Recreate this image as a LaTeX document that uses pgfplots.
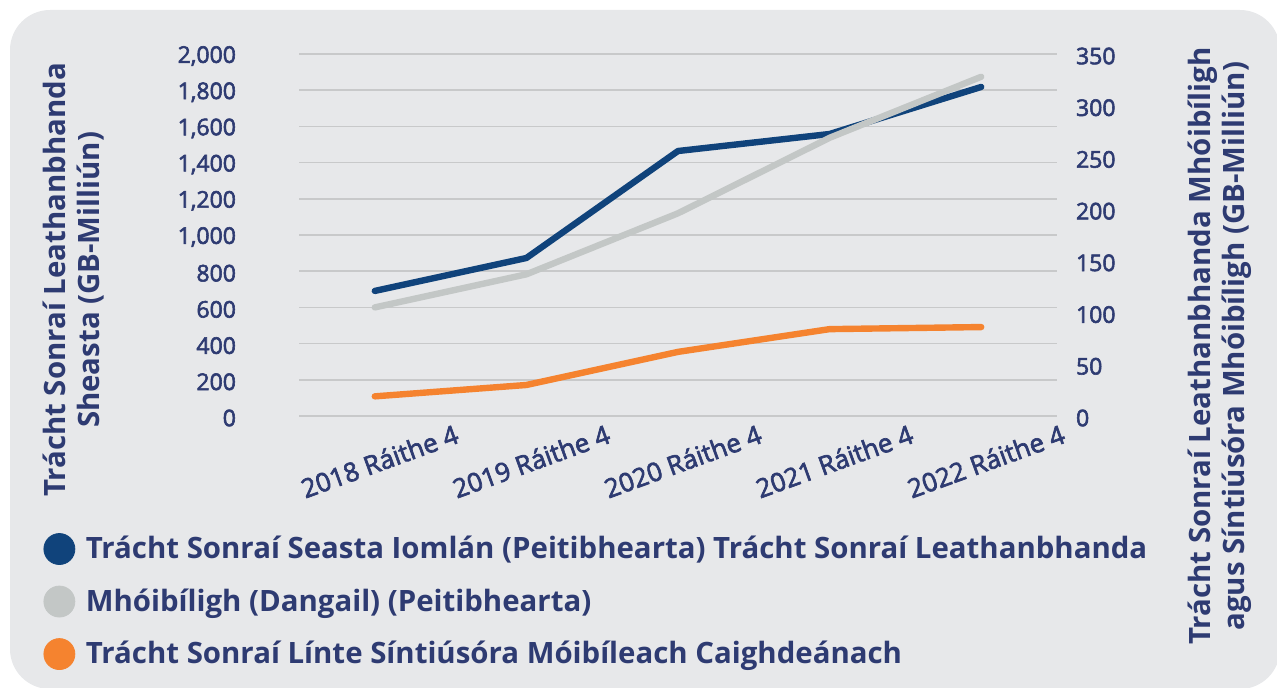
\documentclass[border=0pt]{standalone}
\usepackage{fontspec}
\setmainfont{Open Sans}
\newfontfamily\tickfont{Open Sans}[FakeBold=2.5]
\usepackage{pgfplots}
\pgfplotsset{compat=1.18}

\definecolor{txt}{HTML}{2E3B72}
\definecolor{cblue}{HTML}{10437B}
\definecolor{cgrey}{HTML}{C3C7C6}
\definecolor{corange}{HTML}{F5832F}
\definecolor{panel}{HTML}{E7E8EA}
\definecolor{gridc}{HTML}{C8C9CA}

\pgfplotsset{
  base/.style={
    at={(149.5pt,135.5pt)}, anchor=south west,
    scale only axis, width=379pt, height=181pt,
    xmin=-0.5, xmax=4.5, ymin=0,
    axis line style={draw=none}, major tick style={draw=none},
    tick label style={font=\tickfont\fontsize{11.5}{13}\selectfont, text=txt},
    /pgf/number format/assume math mode=true,
    /pgf/number format/1000 sep={,},
    label style={font=\bfseries\fontsize{14.7}{17}\selectfont, text=txt, align=center},
  },
  ln/.style={line width=3.2pt, line cap=round, line join=round},
}

\begin{document}
\begin{tikzpicture}
\useasboundingbox (0,0) rectangle (638.5pt,343.5pt);
\begin{scope}
\clip (0,0) rectangle (638.5pt,343.5pt);
\fill[panel, rounded corners=20pt] (5pt,-1pt) rectangle (640pt,338.5pt);
\end{scope}

% left axis: fixed broadband traffic
\begin{axis}[base,
  ymax=2000, ytick={0,200,...,2000},
  ymajorgrids, grid style={gridc, line width=0.8pt},
  xtick={0,...,4},
  xticklabels={2018 Ráithe 4,2019 Ráithe 4,2020 Ráithe 4,2021 Ráithe 4,2022 Ráithe 4},
  xticklabel style={rotate=20, anchor=center, xshift=-5.5pt, yshift=-22pt,
    font=\tickfont\fontsize{13}{15}\selectfont},
  yticklabel style={anchor=east, xshift=-28pt, yshift=-1pt},
  ylabel={Trácht Sonraí Leathanbhanda\\Sheasta (GB-Milliún)},
  ylabel style={at={(axis description cs:-0.297,0.376)}, anchor=center},
]
\addplot[ln, cblue] coordinates {(0,691)(1,873)(2,1464)(3,1558)(4,1818)};
\end{axis}

% right axis: mobile broadband traffic
\begin{axis}[base,
  ymax=350, ytick={0,50,...,350},
  axis y line*=right, hide x axis,
  yticklabel style={anchor=west, xshift=6pt, yshift=-1pt},
  ylabel={Trácht Sonraí Leathanbhanda Mhóibíligh\\agus Síntiúsóra Mhóibíligh (GB-Milliún)},
  ylabel style={at={(axis description cs:1.215,0.193)}, anchor=center},
  legend style={at={(axis description cs:-0.345,-0.309)}, anchor=north west,
    draw=none, fill=none, font=\bfseries\fontsize{14.7}{17}\selectfont, text=txt,
    row sep=9.5pt, /tikz/every odd column/.append style={column sep=3.5pt}},
  legend cell align=left,
]
\addlegendimage{only marks, mark=*, mark size=7.75pt, cblue}
\addlegendentry{Trácht Sonraí Seasta Iomlán (Peitibhearta) Trácht Sonraí Leathanbhanda}
\addlegendimage{only marks, mark=*, mark size=7.75pt, cgrey}
\addlegendentry{Mhóibíligh (Dangail) (Peitibhearta)}
\addlegendimage{only marks, mark=*, mark size=7.75pt, corange}
\addlegendentry{Trácht Sonraí Línte Síntiúsóra Móibíleach Caighdeánach}
\addplot[ln, cgrey, forget plot] coordinates {(0,105)(1,137)(2,196)(3,269)(4,328)};
\addplot[ln, corange, forget plot] coordinates {(0,19)(1,30)(2,62)(3,84)(4,86)};
\end{axis}
\end{tikzpicture}
\end{document}
